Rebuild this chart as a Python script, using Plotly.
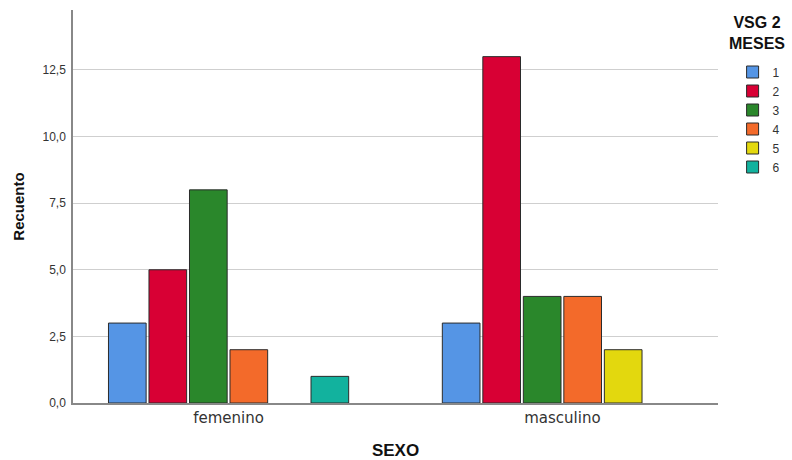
import plotly.graph_objects as go

categories = ["femenino", "masculino"]
series_names = ["1", "2", "3", "4", "5", "6"]
femenino_vals = [3, 5, 8, 2, 0, 1]
masculino_vals = [3, 13, 4, 4, 2, 0]
colors = ["#5595E5", "#D80034", "#2A872B", "#F36A2A", "#E3D80E", "#12B29E"]
y_ticks = [0, 2.5, 5, 7.5, 10, 12.5]
legend_title = "VSG 2<br>MESES"

fig = go.Figure()
for i, name in enumerate(series_names):
    vals = [femenino_vals[i], masculino_vals[i]]
    fig.add_trace(go.Bar(
        x=categories,
        y=[v if v > 0 else None for v in vals],
        name=name,
        marker=dict(color=colors[i], line=dict(color="#2b2b2b", width=1)),
    ))

# legend title, centred above the legend entries
fig.add_annotation(
    text="<b>%s</b>" % legend_title, xref="paper", yref="paper",
    x=1.0605, y=0.942, xanchor="center", yanchor="middle", align="center",
    showarrow=False, font=dict(size=16, color="#111"),
)

fig.update_layout(
    width=792, height=460,
    paper_bgcolor="white", plot_bgcolor="white",
    barmode="group", bargap=0.272, bargroupgap=0.07,
    separators=",.",
    margin=dict(l=73, r=74, t=10, b=57, autoexpand=False),
    font=dict(family="Liberation Sans, Arial", color="#222"),
    legend=dict(
        xref="container", yref="container",
        x=0.925, xanchor="left", y=0.875, yanchor="top",
        font=dict(size=12, color="#333"),
        tracegroupgap=0,
    ),
    xaxis=dict(
        range=[-0.466, 1.466], automargin=False,
        showline=True, linecolor="#888", linewidth=1.5,
        ticks="", tickfont=dict(family="DejaVu Sans", size=15, color="#333"),
        title=dict(text="<b>SEXO</b>", font=dict(size=17, color="#111"), standoff=19),
    ),
    yaxis=dict(
        range=[0, 14.75], automargin=False,
        tickvals=y_ticks, tickformat=".1f",
        showgrid=True, gridcolor="#cfcfcf", gridwidth=1,
        showline=True, linecolor="#888", linewidth=1.5,
        zeroline=False,
        tickfont=dict(size=12, color="#333"),
        ticks="outside", ticklen=3, tickcolor="rgba(0,0,0,0)",
        title=dict(text="<b>Recuento</b>", font=dict(size=15, color="#111"), standoff=14),
    ),
)

fig.write_html(
    "out.html",
    config={"displayModeBar": False},
    post_script="document.body.style.margin='0';document.body.style.overflow='hidden';",
)
